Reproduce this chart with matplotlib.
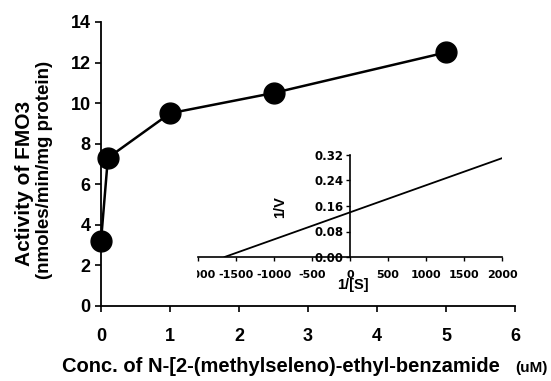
import matplotlib.pyplot as plt
from matplotlib.transforms import Bbox, TransformedBbox

plt.rcParams['font.family'] = ['Liberation Sans', 'DejaVu Sans']
plt.rcParams['font.weight'] = 'bold'
plt.rcParams['axes.unicode_minus'] = False

# main data
conc = [0, 0.1, 1, 2.5, 5]
activity = [3.2, 7.3, 9.5, 10.5, 12.5]

# inset (Lineweaver-Burk)
inv_s = [-1650, 2000]
inv_v = [0.0, 0.31]

W, H = 551, 381
fig = plt.figure(figsize=(W / 100, H / 100), dpi=100)
ax = fig.add_axes([101 / W, 1 - 306 / H, 414 / W, 284 / H])
ax.plot(conc, activity, color='black', lw=1.8, marker='o', ms=15, clip_on=False)
ax.set_xlim(0, 6)
ax.set_ylim(0, 14)
ax.set_xticks(range(0, 7))
ax.set_yticks(range(0, 15, 2))
for s in ['top', 'right']:
    ax.spines[s].set_visible(False)
for s in ['left', 'bottom']:
    ax.spines[s].set_linewidth(1.3)
ax.tick_params(labelsize=13, width=1.2, length=4)
ax.tick_params(axis='x', pad=12)

# axis labels as figure text to match the placement
fig.text(25 / W, 1 - 183 / H, 'Activity of FMO3', rotation=90, fontsize=15,
         fontweight='bold', ha='center', va='center')
fig.text(45 / W, 1 - 170 / H, '(nmoles/min/mg protein)', rotation=90, fontsize=13.5,
         fontweight='bold', ha='center', va='center')
fig.text(62 / W, 1 - 367 / H, 'Conc. of N-[2-(methylseleno)-ethyl-benzamide', fontsize=14.5,
         fontweight='bold', ha='left', va='center')
fig.text(548 / W, 1 - 368 / H, '(uM)', fontsize=11, fontweight='bold', ha='right', va='center')

ins = fig.add_axes([198 / W, 1 - 257 / H, 304 / W, 102 / H])
ins.patch.set_alpha(0)
ins.plot(inv_s, inv_v, color='black', lw=1.3)
ins.set_xlim(-2000, 2000)
ins.set_ylim(0, 0.32)
ins.set_xticks(range(-2000, 2001, 500))
ins.set_yticks([0, 0.08, 0.16, 0.24, 0.32])
ins.set_yticklabels(['0.00', '0.08', '0.16', '0.24', '0.32'])
ins.spines['left'].set_position(('data', 0))
for s in ['top', 'right']:
    ins.spines[s].set_visible(False)
for s in ['left', 'bottom']:
    ins.spines[s].set_linewidth(1.2)
ins.tick_params(width=1, length=3)
ins.tick_params(axis='x', pad=6)
ins.tick_params(axis='y', pad=1.5)
clip = TransformedBbox(Bbox.from_extents(197 / W, 0, 1, 1), fig.transFigure)
for lbl in ins.get_xticklabels():
    lbl.set_fontfamily('DejaVu Sans')
    lbl.set_fontsize(8)
    lbl.set_clip_box(clip)
    lbl.set_clip_on(True)
for lbl in ins.get_yticklabels():
    lbl.set_fontfamily('DejaVu Sans')
    lbl.set_fontsize(8.5)
fig.text(353 / W, 1 - 285 / H, '1/[S]', fontsize=10.5, fontweight='bold', ha='center', va='center')
fig.text(280 / W, 1 - 207 / H, '1/V', rotation=90, fontsize=10.5, fontweight='bold',
         ha='center', va='center')

fig.savefig('out.png', dpi=100)
